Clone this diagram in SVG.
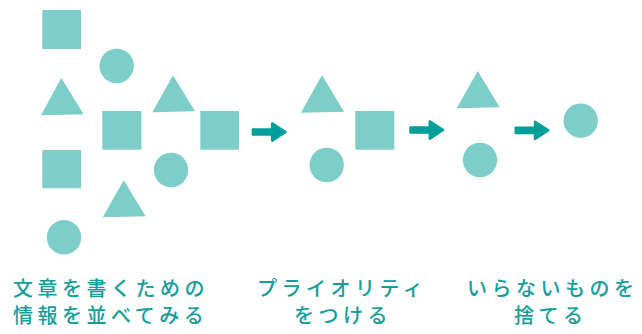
<svg xmlns="http://www.w3.org/2000/svg" xmlns:xlink="http://www.w3.org/1999/xlink" width="642" height="334" viewBox="0 0 642 334">
<style>
.s{fill:#7dcdc8}
.a{fill:#009f9a;stroke:#009f9a;stroke-width:2.5;stroke-linejoin:round}
.t{font-family:"Noto Sans CJK JP","Noto Sans CJK SC",sans-serif;font-size:20px;font-weight:500;fill:#159e99;letter-spacing:4.5px}
</style>
<defs>
<path id="arr" d="M1.2,-2.6 L20.5,-2.6 L20.5,-8.6 L33.8,0 L20.5,8.6 L20.5,2.6 L1.2,2.6 Z"/>
</defs>
<rect width="642" height="334" fill="#fff"/>
<g id="stage1">
<rect class="s" x="42.3" y="10" width="38.7" height="39"/>
<circle class="s" cx="116.7" cy="66" r="17.2"/>
<polygon class="s" points="61.3,78 83.7,114.3 41,115.3"/>
<rect class="s" x="102.3" y="111" width="39" height="38.7"/>
<polygon class="s" points="173,75.3 195,111.3 152.3,112.3"/>
<rect class="s" x="200.3" y="111" width="38.7" height="38.7"/>
<rect class="s" x="42.3" y="150" width="38.7" height="38.3"/>
<circle class="s" cx="171" cy="170" r="17.2"/>
<polygon class="s" points="123.7,180.3 145.7,216.3 102.7,217.3"/>
<circle class="s" cx="64" cy="237.3" r="17.2"/>
</g>
<g id="stage2">
<polygon class="s" points="322,75 344,111.7 301,112.7"/>
<rect class="s" x="355.3" y="111" width="39" height="38.7"/>
<circle class="s" cx="326.7" cy="165" r="17.2"/>
</g>
<g id="stage3">
<polygon class="s" points="477.7,71 499.7,107.3 456.7,108.3"/>
<circle class="s" cx="480" cy="160" r="17.2"/>
</g>
<g id="stage4">
<circle class="s" cx="580.7" cy="120.7" r="17.2"/>
</g>
<g id="connectors">
<use xlink:href="#arr" class="a" transform="translate(251.7,132)"/>
<use xlink:href="#arr" class="a" transform="translate(409.3,130)"/>
<use xlink:href="#arr" class="a" transform="translate(514.5,130.3)"/>
</g>
<g id="label1">
<text class="t" x="13" y="296">文章を書くための</text>
<text class="t" x="13" y="323">情報を並べてみる</text>
</g>
<g id="label2">
<text class="t" x="257" y="296">プライオリティ</text>
<text class="t" x="294" y="323">をつける</text>
</g>
<g id="label3">
<text class="t" x="467" y="296">いらないものを</text>
<text class="t" x="514" y="323">捨てる</text>
</g>
</svg>
